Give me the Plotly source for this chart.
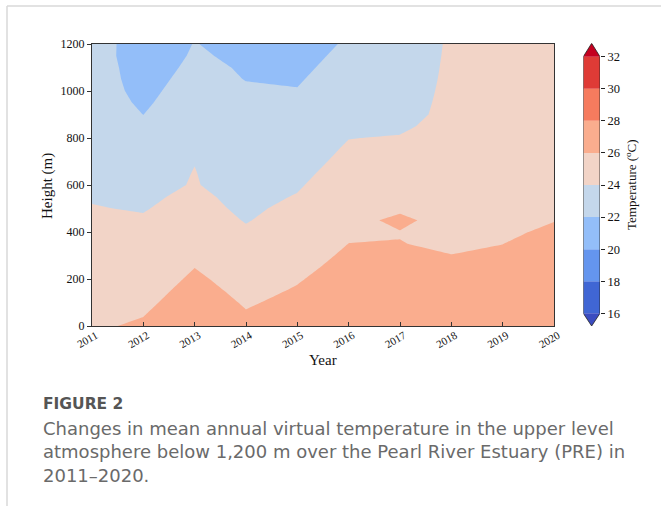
import plotly.graph_objects as go

# ---- data -----------------------------------------------------------------
years = [2011, 2012, 2013, 2014, 2015, 2016, 2017, 2018, 2019, 2020]
heights = list(range(0, 1201, 50))  # m

# mean annual virtual temperature profiles (°C), 0 m .. 1200 m every 50 m
t2011 = [25.77, 25.60, 25.43, 25.26, 25.08, 24.91, 24.74, 24.57, 24.40, 24.22, 24.05, 23.92, 23.80,
         23.68, 23.56, 23.44, 23.32, 23.20, 23.08, 22.90, 22.72, 22.66, 22.62, 22.58, 22.55]
t2012 = [26.23, 25.93, 25.62, 25.32, 25.01, 24.83, 24.65, 24.47, 24.29, 24.11, 23.93, 23.75, 23.60,
         23.45, 23.30, 22.97, 22.63, 22.30, 21.99, 21.75, 21.60, 21.50, 21.44, 21.35, 21.40]
t2013 = [27.50, 27.20, 26.90, 26.60, 26.29, 25.98, 25.68, 25.37, 25.06, 24.76, 24.45, 24.30, 24.08,
         24.04, 23.97, 23.80, 23.60, 23.40, 23.20, 23.00, 22.70, 22.45, 22.25, 22.12, 22.03]
t2014 = [26.38, 26.11, 25.84, 25.56, 25.29, 25.01, 24.74, 24.47, 24.19, 23.92, 23.75, 23.58, 23.40,
         23.24, 23.07, 22.91, 22.80, 22.63, 22.47, 22.31, 22.14, 21.97, 21.90, 21.80, 21.70]
t2015 = [26.90, 26.65, 26.39, 26.13, 25.88, 25.62, 25.37, 25.11, 24.85, 24.60, 24.34, 24.08, 23.85,
         23.63, 23.40, 23.18, 22.96, 22.74, 22.52, 22.29, 22.07, 21.85, 21.63, 21.41, 21.18]
t2016 = [27.60, 27.38, 27.15, 26.92, 26.70, 26.47, 26.24, 26.01, 25.79, 25.56, 25.33, 25.10, 24.88,
         24.65, 24.42, 24.20, 23.97, 23.75, 23.53, 23.31, 23.10, 22.88, 22.66, 22.44, 22.22]
t2017 = [27.60, 27.45, 27.25, 27.00, 26.75, 26.50, 26.28, 26.03, 25.95, 26.30, 25.76, 25.45, 25.15,
         24.85, 24.60, 24.35, 24.10, 23.75, 23.40, 23.30, 23.20, 23.12, 23.05, 22.97, 22.90]
t2018 = [27.20, 27.00, 26.80, 26.60, 26.40, 26.20, 26.02, 25.82, 25.62, 25.42, 25.25, 25.10, 24.97,
         24.86, 24.76, 24.68, 24.61, 24.55, 24.48, 24.42, 24.37, 24.32, 24.28, 24.25, 24.22]
t2019 = [27.30, 27.10, 26.90, 26.70, 26.52, 26.35, 26.17, 25.99, 25.82, 25.66, 25.50, 25.36, 25.23,
         25.11, 25.00, 24.90, 24.82, 24.75, 24.69, 24.64, 24.59, 24.55, 24.51, 24.48, 24.45]
t2020 = [27.70, 27.52, 27.34, 27.15, 26.96, 26.77, 26.57, 26.38, 26.18, 25.97, 25.80, 25.64, 25.50,
         25.37, 25.26, 25.16, 25.07, 24.99, 24.92, 24.86, 24.81, 24.76, 24.72, 24.68, 24.65]

profiles = [t2011, t2012, t2013, t2014, t2015, t2016, t2017, t2018, t2019, t2020]

levels = [16, 18, 20, 22, 24, 26, 28, 30, 32]
height_ticks = [0, 200, 400, 600, 800, 1000, 1200]

# ---- colours (coolwarm-like, one per band) ---------------------------------
under_color = "#3b4cc0"
band_colors = ["#4066d4", "#6495ee", "#93bef9", "#c4d7eb",
               "#f2d4c7", "#faad8e", "#f67b5e", "#df3b36"]
over_color = "#c4001f"

all_colors = [under_color] + band_colors + [over_color]
n_col = len(all_colors)
colorscale = []
for k, c in enumerate(all_colors):
    lo = max(0.0, (k - 0.5) / (n_col - 1))
    hi = min(1.0, (k + 0.5) / (n_col - 1))
    colorscale += [[lo, c], [hi, c]]

# grid: rows = heights, columns = years
z = [[profiles[j][i] for j in range(len(years))] for i in range(len(heights))]

W, H = 661, 506


def px_x(p):
    return p / W


def px_y(p):
    return 1 - p / H


serif = "Liberation Serif"
sans = "DejaVu Sans"

fig = go.Figure()

fig.add_trace(go.Contour(
    x=years, y=heights, z=z,
    colorscale=colorscale, showscale=False,
    contours=dict(start=levels[0], end=levels[-1], size=2, coloring="fill"),
    line=dict(width=0, smoothing=0),
    hoverinfo="skip",
))

# ---- colour bar with extension triangles -----------------------------------
fig.add_trace(go.Bar(
    x=[0] * (len(levels) - 1), y=[levels[i + 1] - levels[i] for i in range(len(levels) - 1)],
    base=levels[:-1], width=1,
    marker=dict(color=band_colors, line=dict(width=0)),
    xaxis="x2", yaxis="y2", showlegend=False, hoverinfo="skip",
))

cb_lo, cb_hi = 15.21, 32.835
fig.add_trace(go.Scatter(
    x=[-0.5, 0.5, 0, -0.5], y=[levels[-1], levels[-1], cb_hi, levels[-1]],
    fill="toself", fillcolor=over_color, mode="none",
    xaxis="x2", yaxis="y2", showlegend=False, hoverinfo="skip",
))
fig.add_trace(go.Scatter(
    x=[-0.5, 0.5, 0, -0.5], y=[levels[0], levels[0], cb_lo, levels[0]],
    fill="toself", fillcolor=under_color, mode="none",
    xaxis="x2", yaxis="y2", showlegend=False, hoverinfo="skip",
))
fig.add_trace(go.Scatter(
    x=[-0.5, -0.5, 0, 0.5, 0.5, 0, -0.5],
    y=[levels[0], levels[-1], cb_hi, levels[-1], levels[0], cb_lo, levels[0]],
    mode="lines", line=dict(color="#222222", width=0.8),
    xaxis="x2", yaxis="y2", showlegend=False, hoverinfo="skip",
))

fig.update_layout(
    template="none",
    width=W, height=H,
    margin=dict(l=0, r=0, t=0, b=0, autoexpand=False),
    paper_bgcolor="white", plot_bgcolor="white",
    barmode="overlay",
    showlegend=False,
    xaxis=dict(
        domain=[px_x(92), px_x(554)], range=[years[0], years[-1]],
        tickvals=years, ticktext=[str(y) for y in years],
        ticks="inside", ticklen=4, tickcolor="#333333", tickangle=-30,
        ticklabelshift=4, ticklabelstandoff=-2,
        tickfont=dict(family=serif, size=11, color="#111111"),
        showline=True, linecolor="#333333", linewidth=1, mirror=True,
        showgrid=False, zeroline=False, anchor="y", automargin=False,
    ),
    yaxis=dict(
        domain=[px_y(326), px_y(44)], range=[0, 1200],
        tickvals=height_ticks,
        ticks="outside", ticklen=4, tickcolor="#333333",
        tickfont=dict(family=serif, size=12, color="#111111"),
        showline=True, linecolor="#333333", linewidth=1, mirror=True,
        showgrid=False, zeroline=False, anchor="x", automargin=False,
    ),
    xaxis2=dict(
        domain=[px_x(583.3), px_x(600)], range=[-0.5, 0.5],
        visible=False, anchor="y2", fixedrange=True, automargin=False,
    ),
    yaxis2=dict(
        domain=[px_y(326), px_y(43.3)], range=[cb_lo, cb_hi],
        side="right", anchor="x2", tickvals=levels,
        ticks="outside", ticklen=4, tickcolor="#222222",
        tickfont=dict(family=serif, size=12.5, color="#111111"),
        showline=False, showgrid=False, zeroline=False, automargin=False,
    ),
)

annotations = [
    dict(text="Height (m)", x=px_x(47), y=px_y(186), textangle=-90,
         font=dict(family=serif, size=15, color="#111111")),
    dict(text="Year", x=px_x(323), y=px_y(360),
         font=dict(family=serif, size=15, color="#111111")),
    dict(text="Temperature (<sup>o</sup>C)", x=px_x(631), y=px_y(185), textangle=-90,
         font=dict(family=serif, size=13, color="#111111")),
    dict(text="<b>FIGURE 2</b>", x=px_x(41), y=px_y(404), xanchor="left",
         font=dict(family=sans, size=15.5, color="#555555")),
    dict(text="Changes in mean annual virtual temperature in the upper level<br>"
              "atmosphere below 1,200 m over the Pearl River Estuary (PRE) in<br>"
              "2011\u20132020.",
         x=px_x(41), y=px_y(452), xanchor="left", align="left",
         font=dict(family=sans, size=18, color="#6a6a6a")),
]
for a in annotations:
    a.setdefault("xanchor", "center")
    a.update(xref="paper", yref="paper", showarrow=False, yanchor="middle")
fig.update_layout(annotations=annotations)

fig.update_layout(shapes=[
    dict(type="line", xref="paper", yref="paper", x0=px_x(7), x1=1, y0=px_y(6), y1=px_y(6),
         line=dict(color="#d9d9d9", width=1.5)),
    dict(type="line", xref="paper", yref="paper", x0=px_x(7), x1=px_x(7), y0=px_y(6), y1=0,
         line=dict(color="#d9d9d9", width=1.5)),
])

fig.write_html("out.html")
